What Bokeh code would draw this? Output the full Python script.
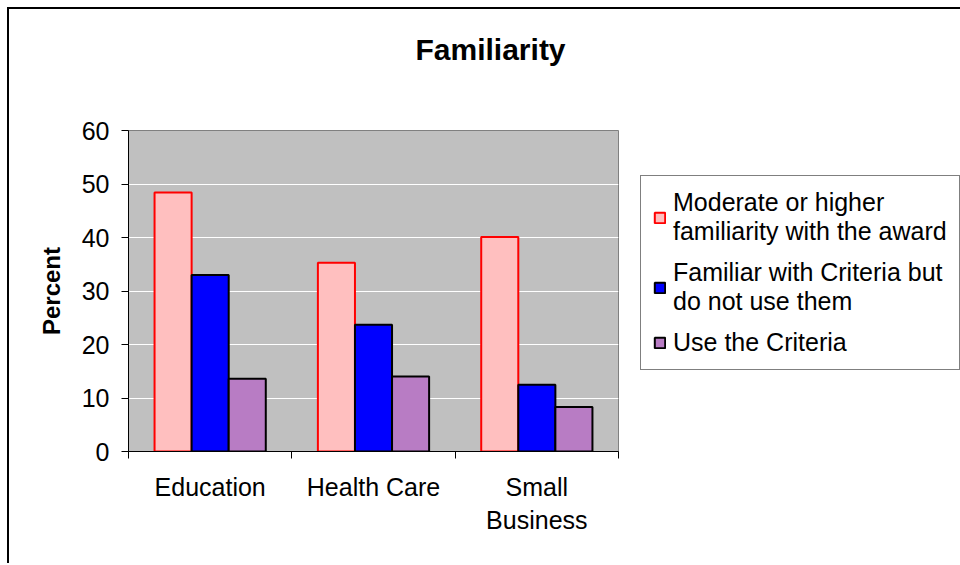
from bokeh.plotting import figure
from bokeh.models import FixedTicker, Legend, LegendItem, Range1d, Title
from bokeh.embed import file_html
from bokeh.resources import INLINE

title_text = "Familiarity"
categories = ["Education", "Health Care", "Small\nBusiness"]
series_labels = ["Moderate or higher\nfamiliarity with the award",
                 "Familiar with Criteria but\ndo not use them",
                 "Use the Criteria"]
moderate = [48.4, 35.3, 40.1]
familiar = [33.0, 23.7, 12.5]
use_criteria = [13.6, 14.0, 8.3]
y_ticks = [0, 10, 20, 30, 40, 50, 60]

FONT = "Liberation Sans"

p = figure(frame_width=490, frame_height=321, x_range=Range1d(0, len(categories)), y_range=Range1d(0, 60),
           output_backend="svg", toolbar_location=None,
           min_border_left=119, min_border_right=342, min_border_top=121, min_border_bottom=112)
p.styles = {"margin-left": "7px", "margin-top": "7px",
            "border-left": "2px solid black", "border-top": "2px solid black"}
p.background_fill_color = "#C0C0C0"
p.border_fill_color = "white"
p.outline_line_color = "#808080"
p.outline_line_width = 1
p.title.text = ""

bw = 0.227
centers = [i + 0.5 for i in range(len(categories))]
series = [moderate, familiar, use_criteria]
fills = ["#FFBFBF", "#0000FF", "#B87CC4"]
lines = ["#FF0000", "#000000", "#000000"]
offsets = [-bw, 0.0, bw]
renderers = []
for vals, fc, lc, off in zip(series, fills, lines, offsets):
    r = p.vbar(x=[c + off for c in centers], top=vals, bottom=0, width=bw,
               fill_color=fc, line_color=lc, line_width=2)
    renderers.append(r)

# axes
xax = p.xaxis[0]
xax.ticker = FixedTicker(ticks=centers, minor_ticks=list(range(len(categories) + 1)))
xax.major_label_overrides = {c: lab for c, lab in zip(centers, categories)}
xax.major_tick_out = 0
xax.major_tick_in = 0
xax.minor_tick_out = 7
xax.minor_tick_in = 0
xax.minor_tick_line_color = "black"
xax.major_label_standoff = 14
xax.axis_line_color = "black"

yax = p.yaxis[0]
yax.ticker = FixedTicker(ticks=y_ticks, minor_ticks=[])
yax.major_tick_out = 7
yax.major_tick_in = 0
yax.major_label_standoff = 12
yax.axis_label = "Percent"
yax.axis_label_text_font = FONT
yax.axis_label_text_font_style = "bold"
yax.axis_label_text_font_size = "24px"
yax.axis_label_text_color = "black"
yax.axis_label_standoff = 14
yax.axis_line_color = "black"

for ax in (xax, yax):
    ax.major_label_text_font = FONT
    ax.major_label_text_font_size = "25px"
    ax.major_label_text_color = "black"
    ax.major_tick_line_color = "black"

p.xgrid.visible = False
p.ygrid.ticker = FixedTicker(ticks=y_ticks)
p.ygrid.grid_line_color = "white"
p.ygrid.grid_line_width = 1

# thin blank spacer panel next to the frame, then the chart title outside it
spacer = Title(text=" ", text_font_size="1px", standoff=55)
p.add_layout(spacer, "above")
main_title = Title(text=title_text, text_font=FONT, text_font_style="bold", text_font_size="30px",
                   text_color="black", align="left", vertical_align="top", offset=287, standoff=10)
p.add_layout(main_title, "above")

legend = Legend(items=[LegendItem(label=lab, renderers=[r]) for lab, r in zip(series_labels, renderers)],
                location=(22, 81))
legend.label_text_font = FONT
legend.label_text_font_size = "25px"
legend.label_text_color = "black"
legend.label_text_line_height = 1.5
legend.glyph_width = 13
legend.glyph_height = 13
legend.label_standoff = 7
legend.padding = 12
legend.spacing = 12
legend.margin = 0
legend.border_line_color = "black"
legend.border_line_width = 1
legend.background_fill_color = "white"
legend.background_fill_alpha = 1.0
p.add_layout(legend, "right")

open("out.html", "w").write(file_html(p, INLINE))
